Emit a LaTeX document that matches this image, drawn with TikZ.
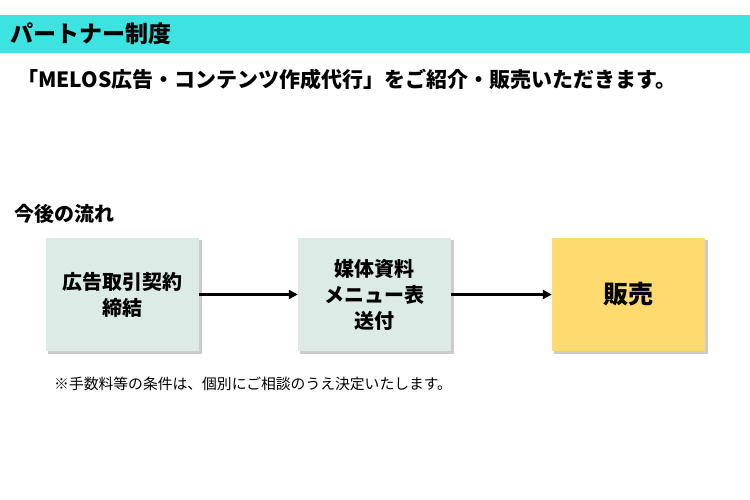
\documentclass[tikz,border=0pt]{standalone}
\usepackage{fontspec}
\setmainfont{Noto Sans CJK JP}
\usetikzlibrary{arrows.meta}
\definecolor{headcyan}{HTML}{3DE3E0}
\definecolor{boxgreen}{HTML}{DCEBE6}
\definecolor{boxgold}{HTML}{FFDA6E}
\tikzset{
  x=1pt, y=-1pt,
  flowbox/.style={minimum width=153pt, minimum height=113pt, inner sep=0pt, align=center,
    font=\fontsize{20}{26}\selectfont\bfseries, text=black},
  shadowbox/.style={fill=black!20, draw=none},
  flowarrow/.style={-{Triangle[length=9pt,width=9pt]}, line width=3pt, black},
  plaintext/.style={anchor=west, inner sep=0pt}
}
\begin{document}
\begin{tikzpicture}
\useasboundingbox (0,0) rectangle (750,500);
\fill[white] (0,0) rectangle (750,500);
% header
\fill[headcyan] (0,15) rectangle (750,53);
\node[plaintext, font=\fontsize{23}{26}\selectfont\bfseries] (title) at (10,34) {パートナー制度};
\node[plaintext, font=\fontsize{21}{24}\selectfont\bfseries] (sub) at (17,79) {「MELOS広告・コンテンツ作成代行」をご紹介・販売いただきます。};
\node[plaintext, font=\fontsize{20}{22}\selectfont\bfseries] (flow) at (14,214) {今後の流れ};
% shadows
\fill[shadowbox] (48,240) rectangle (201.5,353.5);
\fill[shadowbox] (300,240) rectangle (453.5,353.5);
\fill[shadowbox] (554,240) rectangle (707.5,353.5);
% boxes
\node[flowbox, fill=boxgreen] (b1) at (122.5,294.5) {広告取引契約\\締結};
\node[flowbox, fill=boxgreen] (b2) at (374.5,294.5) {媒体資料\\メニュー表\\送付};
\node[flowbox, fill=boxgold, font=\fontsize{25}{28}\selectfont\bfseries] (b3) at (628.5,294.5) {販売};
% arrows
\draw[flowarrow] (b1.east) -- (b2.west);
\draw[flowarrow] (b2.east) -- (b3.west);
% footnote
\node[plaintext, font=\fontsize{14.8}{17}\selectfont] (note) at (54,384) {※手数料等の条件は、個別にご相談のうえ決定いたします。};
\end{tikzpicture}
\end{document}
